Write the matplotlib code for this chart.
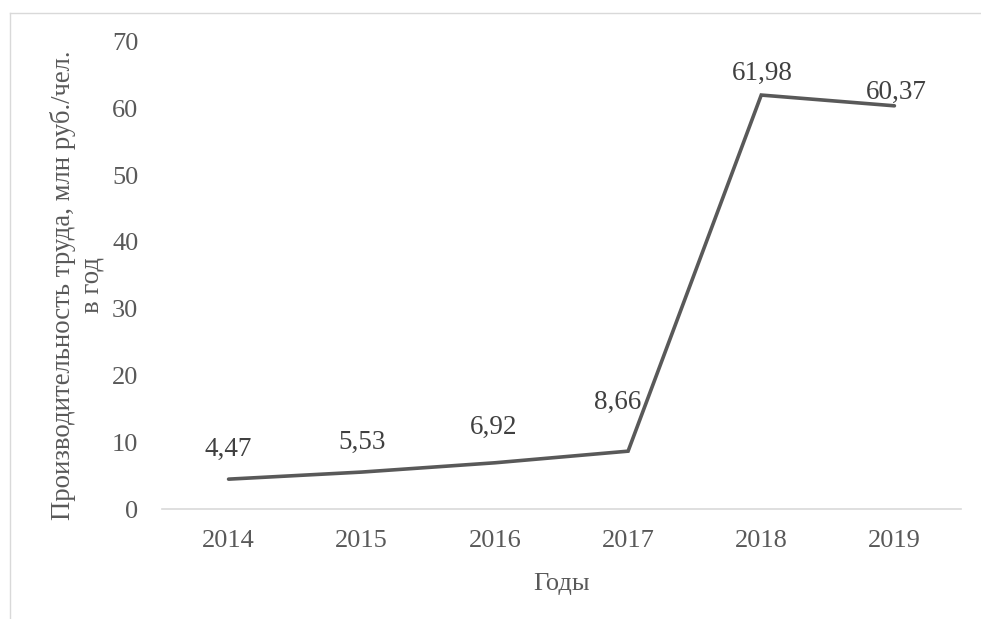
import matplotlib.pyplot as plt
from matplotlib.lines import Line2D

# данные
years = ['2014', '2015', '2016', '2017', '2018', '2019']
productivity = [4.47, 5.53, 6.92, 8.66, 61.98, 60.37]
labels = ['4,47', '5,53', '6,92', '8,66', '61,98', '60,37']
# смещение подписей от точки, px (dx, dy до базовой линии)
label_shift = [(0, 23), (0, 23), (-1, 29), (-10, 42), (1.5, 15), (2, 7)]

W, H = 981, 619
plt.rcParams['font.family'] = ['Liberation Serif', 'DejaVu Serif']
plt.rcParams['font.size'] = 19

fig = plt.figure(figsize=(W / 100, H / 100), dpi=100)
ax = fig.add_axes([162 / W, 1 - 509 / H, (961 - 162) / W, (509 - 41.5) / H])

x = list(range(len(years)))
ax.plot(x, productivity, color='#595959', linewidth=2.6, solid_capstyle='round', solid_joinstyle='miter')

for xi, yi, txt, (dx, dy) in zip(x, productivity, labels, label_shift):
    ax.annotate(txt, (xi, yi), xytext=(dx * 0.72, dy * 0.72), textcoords='offset points',
                ha='center', va='baseline', color='#404040', fontsize=19.5)

ax.set_xlim(-0.5, 5.5)
ax.set_ylim(0, 70)
ax.set_xticks(x)
ax.set_xticklabels(years)
ax.set_yticks(range(0, 71, 10))
ax.tick_params(axis='both', length=0, colors='#595959', labelsize=19)
ax.tick_params(axis='y', pad=17)
ax.tick_params(axis='x', pad=15)

for side in ['top', 'right', 'left']:
    ax.spines[side].set_visible(False)
ax.spines['bottom'].set_color('#d9d9d9')
ax.spines['bottom'].set_linewidth(1.2)

# подписи осей
fig.text(562 / W, 1 - 584 / H, 'Годы', ha='center', va='center', color='#595959', fontsize=19)
fig.text(77 / W, 1 - 285 / H, 'Производительность труда, млн руб./чел.\nв год',
         rotation=90, ha='center', va='center', multialignment='center',
         color='#595959', fontsize=19.3, linespacing=1.2)

# рамка области диаграммы (видна сверху и слева)
fig.add_artist(Line2D([9.5 / W, 1], [1 - 13 / H, 1 - 13 / H], color='#d9d9d9', linewidth=1, transform=fig.transFigure))
fig.add_artist(Line2D([9.5 / W, 9.5 / W], [0, 1 - 13 / H], color='#d9d9d9', linewidth=1, transform=fig.transFigure))

fig.savefig('out.png', dpi=100)
